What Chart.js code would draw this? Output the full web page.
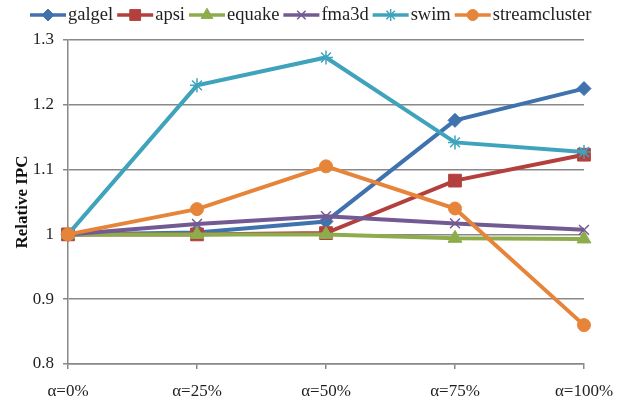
<!DOCTYPE html>
<html>
<head>
<meta charset="utf-8">
<script src="https://cdn.jsdelivr.net/npm/chart.js@4/dist/chart.umd.min.js"></script>
<style>
  html, body { margin: 0; padding: 0; background: #fff; }
  #wrap { width: 622px; height: 402px; }
</style>
</head>
<body>
<div id="wrap"><canvas id="ipcChart" width="622" height="402"></canvas></div>
<script>
// Datos
const labels = ['α=0%', 'α=25%', 'α=50%', 'α=75%', 'α=100%'];
const galgel = [1.0, 1.003, 1.02, 1.176, 1.225];
const apsi = [1.0, 1.0, 1.002, 1.083, 1.123];
const equake = [1.0, 1.0, 1.0, 0.994, 0.993];
const fma3d = [1.0, 1.016, 1.028, 1.017, 1.007];
const swim = [1.0, 1.23, 1.273, 1.142, 1.127];
const streamcluster = [1.0, 1.039, 1.105, 1.04, 0.86];
const yTicks = [0.8, 0.9, 1.0, 1.1, 1.2, 1.3];

const serif = '"Liberation Serif", "Times New Roman", serif';
const textColor = '#1f1f1f';

function serie(label, data, color, style, radius, bw, order) {
    return {
        label: label,
        data: data,
        borderColor: color,
        backgroundColor: color,
        pointBackgroundColor: color,
        pointBorderColor: color,
        borderWidth: 4,
        pointStyle: style,
        pointRadius: radius,
        pointHoverRadius: radius,
        pointBorderWidth: bw,
        tension: 0,
        fill: false,
        order: order // las últimas series quedan encima
    };
}

const datasets = [
    serie('galgel', galgel, '#4072AE', 'rectRot', 7, 1, 6),
    serie('apsi', apsi, '#B3403D', 'rect', 9, 1, 5),
    serie('equake', equake, '#8DAD4C', 'triangle', 8, 1, 4),
    serie('fma3d', fma3d, '#735A93', 'crossRot', 7, 1.5, 3),
    serie('swim', swim, '#3FA3BB', 'star', 7, 1.5, 2),
    serie('streamcluster', streamcluster, '#E6853A', 'circle', 6.5, 1, 1)
];

// Leyenda propia: línea + marcador + texto, en una sola fila
const legendPlugin = {
    id: 'lineLegend',
    afterDraw: function (chart) {
        const c = chart.ctx;
        const iconW = 36, gapText = 2, gapItem = 4, y = 15;
        c.save();
        c.font = '18.5px ' + serif;
        c.textBaseline = 'middle';
        const items = chart.data.datasets.map(function (ds) {
            return { ds: ds, w: c.measureText(ds.label).width };
        });
        let total = 0;
        items.forEach(function (it, i) {
            total += iconW + gapText + it.w + (i > 0 ? gapItem : 0);
        });
        let x = Math.round(chart.width / 2 - total / 2);
        items.forEach(function (it) {
            const ds = it.ds;
            c.strokeStyle = ds.borderColor;
            c.fillStyle = ds.backgroundColor;
            c.lineWidth = 3.5;
            c.beginPath();
            c.moveTo(x, y);
            c.lineTo(x + iconW, y);
            c.stroke();
            c.lineWidth = ds.pointBorderWidth;
            Chart.helpers.drawPoint(c, {
                pointStyle: ds.pointStyle,
                radius: ds.pointRadius * 0.85,
                rotation: 0,
                borderWidth: ds.pointBorderWidth
            }, x + iconW / 2, y);
            c.fillStyle = textColor;
            c.fillText(ds.label, x + iconW + gapText, y);
            x += iconW + gapText + it.w + gapItem;
        });
        c.restore();
    }
};

const ctx = document.getElementById('ipcChart').getContext('2d');
new Chart(ctx, {
    type: 'line',
    data: { labels: labels, datasets: datasets },
    plugins: [legendPlugin],
    options: {
        responsive: false,
        animation: false,
        layout: { padding: { left: 12, right: 38, top: 40, bottom: 0 } },
        plugins: {
            tooltip: { enabled: false },
            legend: { display: false }
        },
        scales: {
            x: {
                offset: false,
                afterFit: function (scale) {
                    scale.height = 38;
                    // el margen derecho lo fija layout.padding
                    scale.paddingLeft = 0;
                    scale.paddingRight = 0;
                },
                grid: {
                    drawOnChartArea: false,
                    drawTicks: true,
                    tickLength: 5,
                    color: '#888',
                    lineWidth: 1.5
                },
                border: { color: '#888', width: 1.5 },
                ticks: {
                    color: textColor,
                    padding: 12,
                    maxRotation: 0,
                    font: { family: serif, size: 17 }
                }
            },
            y: {
                min: 0.8,
                max: 1.3,
                afterBuildTicks: function (scale) {
                    scale.ticks = yTicks.map(function (v) { return { value: v }; });
                },
                afterFit: function (scale) {
                    scale.width = 56;
                },
                grid: {
                    color: '#888',
                    lineWidth: 1.5,
                    tickLength: 5
                },
                border: { color: '#888', width: 1.5 },
                ticks: {
                    color: textColor,
                    padding: 9,
                    font: { family: serif, size: 17 },
                    callback: function (v) { return String(Number(v.toFixed(1))); }
                },
                title: {
                    display: true,
                    text: 'Relative IPC',
                    color: '#111',
                    padding: 0,
                    font: { family: serif, size: 17, weight: 'bold' }
                }
            }
        }
    }
});
</script>
</body>
</html>
